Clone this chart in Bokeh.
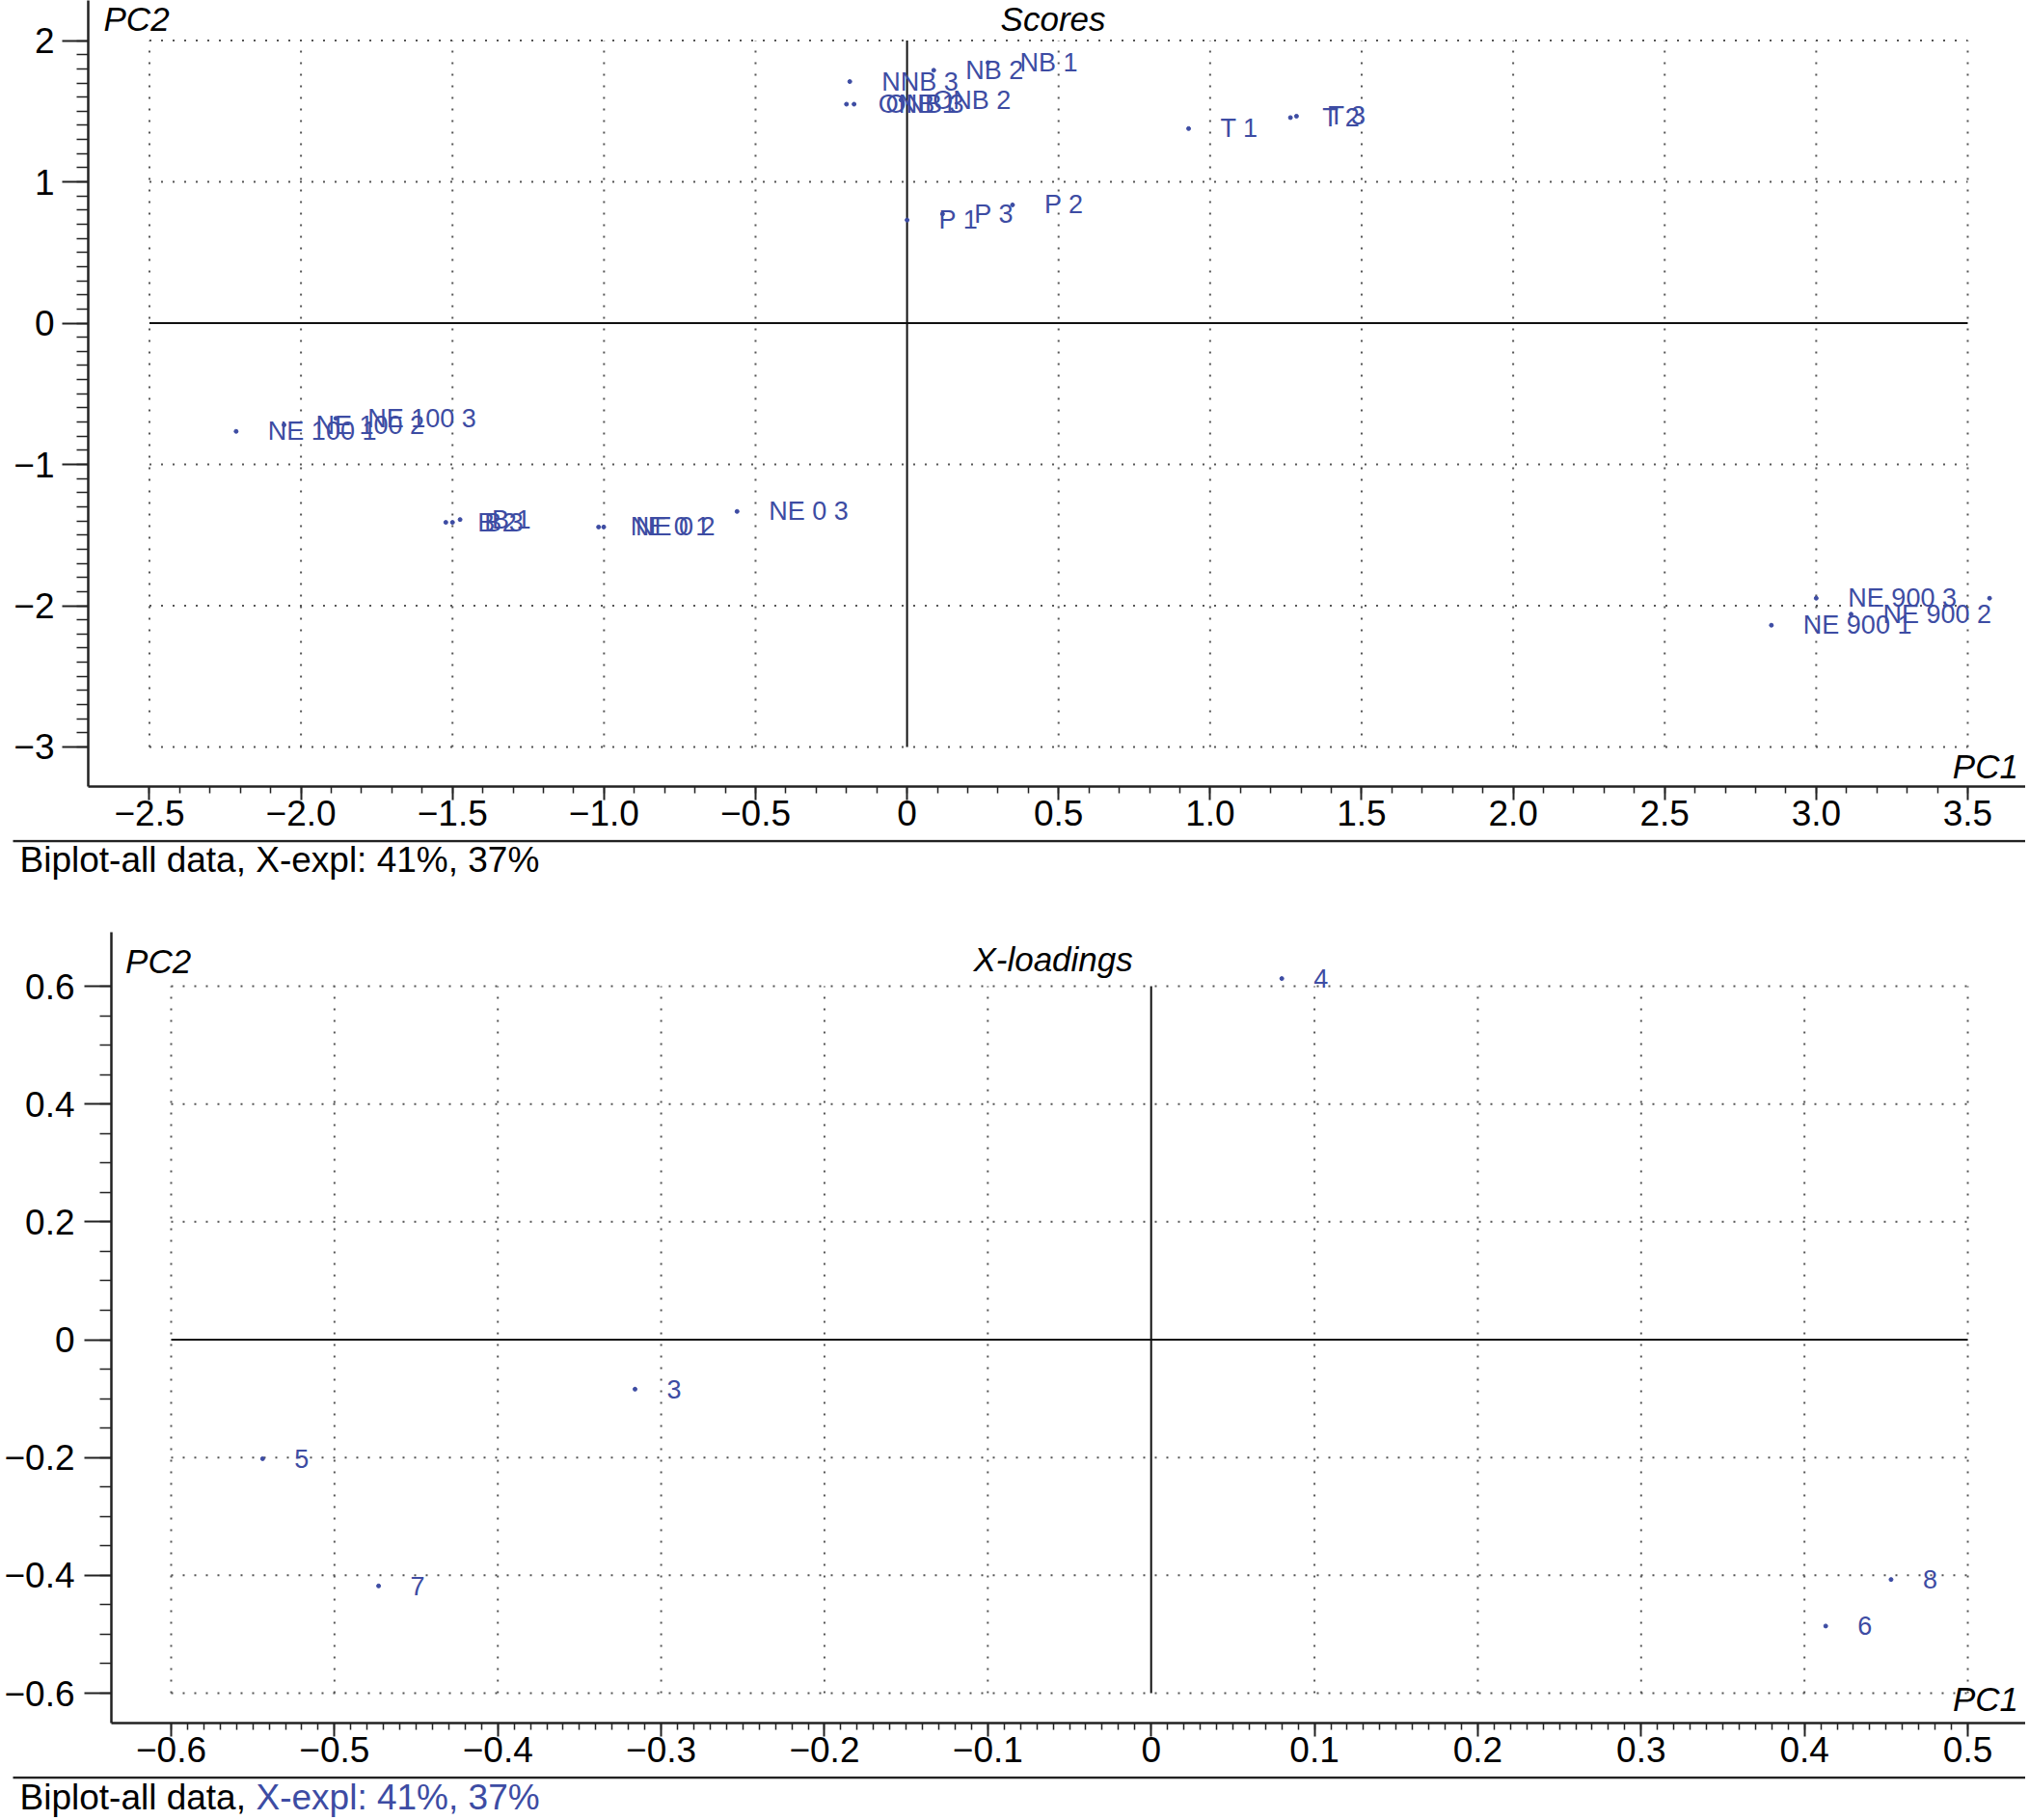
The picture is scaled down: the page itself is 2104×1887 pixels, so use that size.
import numpy as np
from bokeh.plotting import figure
from bokeh.layouts import column
from bokeh.models import FixedTicker, LinearAxis, Label, Range1d
from bokeh.core.properties import value
from bokeh.embed import file_html
from bokeh.resources import INLINE

BLUE = "#3d4ca3"
FONT = "Liberation Sans"
W = 2100

# ---------------- data: scores (PC1, PC2) ----------------
score_labels = ["NE 100 1", "NE 100 2", "NE 100 3",
                "B 2", "B 3", "B 1",
                "NE 0 1", "NE 0 2", "NE 0 3",
                "NNB 3", "ONB 1", "ONB 3", "ONB 2", "NB 2", "NB 1",
                "T 1", "T 2", "T 3",
                "P 1", "P 3", "P 2",
                "NE 900 1", "NE 900 2", "NE 900 3", ""]
score_pc1 = [-2.214, -2.056, -1.885,
             -1.522, -1.500, -1.475,
             -1.018, -1.001, -0.561,
             -0.189, -0.200, -0.175, -0.020, 0.088, 0.267,
             0.929, 1.265, 1.285,
             0.000, 0.117, 0.348,
             2.852, 3.115, 3.000, 3.572]
score_pc2 = [-0.766, -0.720, -0.674,
             -1.410, -1.410, -1.390,
             -1.443, -1.443, -1.333,
             1.710, 1.550, 1.550, 1.580, 1.790, 1.844,
             1.377, 1.455, 1.465,
             0.730, 0.773, 0.837,
             -2.138, -2.060, -1.947, -1.947]

# ---------------- data: X-loadings ----------------
load_labels = ["4", "3", "5", "7", "8", "6"]
load_pc1 = [0.080, -0.316, -0.544, -0.473, 0.453, 0.413]
load_pc2 = [0.613, -0.084, -0.202, -0.418, -0.407, -0.486]

# ---------------- ticks ----------------
top_xticks = [-2.5, -2.0, -1.5, -1.0, -0.5, 0, 0.5, 1.0, 1.5, 2.0, 2.5, 3.0, 3.5]
top_xlabels = ["\u22122.5", "\u22122.0", "\u22121.5", "\u22121.0", "\u22120.5", "0",
               "0.5", "1.0", "1.5", "2.0", "2.5", "3.0", "3.5"]
top_yticks = [-3, -2, -1, 0, 1, 2]
top_ylabels = ["\u22123", "\u22122", "\u22121", "0", "1", "2"]

bot_xticks = [-0.6, -0.5, -0.4, -0.3, -0.2, -0.1, 0, 0.1, 0.2, 0.3, 0.4, 0.5]
bot_xlabels = ["\u22120.6", "\u22120.5", "\u22120.4", "\u22120.3", "\u22120.2", "\u22120.1", "0",
               "0.1", "0.2", "0.3", "0.4", "0.5"]
bot_yticks = [-0.6, -0.4, -0.2, 0, 0.2, 0.4, 0.6]
bot_ylabels = ["\u22120.6", "\u22120.4", "\u22120.2", "0", "0.2", "0.4", "0.6"]

caption_black = "Biplot-all data, "
caption_blue = "X-expl: 41%, 37%"


def minor(lo, hi, step):
    return [float(v) for v in np.round(np.arange(lo, hi + step / 2, step), 3)]


def axis_style(ax, tick_out, minor_out, standoff):
    ax.axis_line_color = "#222222"
    ax.axis_line_width = 2.5
    ax.major_tick_line_color = "#222222"
    ax.major_tick_line_width = 2
    ax.minor_tick_line_color = "#222222"
    ax.minor_tick_line_width = 1.5
    ax.major_tick_in = 0
    ax.minor_tick_in = 0
    ax.major_tick_out = tick_out
    ax.minor_tick_out = minor_out
    ax.major_label_standoff = standoff
    ax.major_label_text_font = FONT
    ax.major_label_text_font_size = "37px"
    ax.major_label_text_color = "black"


def panel(height, xr, yr, border_left, border_bottom,
          xticks, xlabels, xminor, yticks, ylabels, yminor,
          ytick_out, ystandoff):
    p = figure(width=W, height=height, x_range=Range1d(*xr), y_range=Range1d(*yr),
               output_backend="svg", toolbar_location=None,
               x_axis_location=None, y_axis_location=None,
               min_border_left=border_left, min_border_right=0,
               min_border_top=0, min_border_bottom=border_bottom)
    p.frame_align = False
    p.outline_line_color = None
    p.grid.visible = False

    xa = LinearAxis(ticker=FixedTicker(ticks=xticks, minor_ticks=xminor),
                    major_label_overrides=dict(zip(xticks, xlabels)))
    axis_style(xa, 14, 7, 0)
    p.add_layout(xa, "below")

    ya = LinearAxis(ticker=FixedTicker(ticks=yticks, minor_ticks=yminor),
                    major_label_overrides=dict(zip(yticks, ylabels)))
    axis_style(ya, ytick_out, 12, ystandoff)
    p.add_layout(ya, "left")

    # dotted grid limited to the tick span
    gx = [t for t in xticks if t != 0]
    gy = [t for t in yticks if t != 0]
    p.segment(x0=gx, y0=yticks[0], x1=gx, y1=yticks[-1],
              line_color="#555555", line_dash="2 10", line_width=2)
    p.segment(x0=xticks[0], y0=gy, x1=xticks[-1], y1=gy,
              line_color="#555555", line_dash="2 10", line_width=2)
    # zero lines
    p.segment(x0=[xticks[0], 0], y0=[0, yticks[0]], x1=[xticks[-1], 0], y1=[0, yticks[-1]],
              line_color="#111111", line_width=2)
    return p


def caption(height, text_y, parts):
    # a strip holding the rule under the tick labels and the caption text
    c = figure(width=W, height=height, x_range=Range1d(0, W), y_range=Range1d(height, 0),
               output_backend="svg", toolbar_location=None,
               x_axis_location=None, y_axis_location=None,
               min_border_left=0, min_border_right=0, min_border_top=0, min_border_bottom=0)
    c.frame_align = False
    c.outline_line_color = None
    c.grid.visible = False
    c.segment(x0=13, y0=1.5, x1=W, y1=1.5, line_color="#222222", line_width=2.5)
    for x, txt, col in parts:
        c.text(x=[x], y=[text_y], text=[txt], text_baseline="middle",
               text_font=value(FONT), text_font_size="37px", text_color=col)
    return c


# ---------------- top panel: scores ----------------
p1 = panel(870, (-2.702, 3.691), (-3.28, 2.284), 91, 55,
           top_xticks, top_xlabels, minor(-2.5, 3.5, 0.1),
           top_yticks, top_ylabels, minor(-3, 2, 0.1), 27, 8)
p1.scatter(score_pc1, score_pc2, size=4, color=BLUE)
p1.text(score_pc1, score_pc2, text=score_labels, x_offset=33, text_baseline="middle",
        text_font=value(FONT), text_font_size="27px", text_color=BLUE)
for x, y, t, al in [(-2.651, 2.155, "PC2", "left"), (0.482, 2.155, "Scores", "center"),
                    (3.667, -3.139, "PC1", "right")]:
    p1.add_layout(Label(x=x, y=y, text=t, text_align=al, text_baseline="alphabetic",
                        text_font=FONT, text_font_size="35px", text_font_style="italic",
                        text_color="black"))
c1 = caption(96, 21, [(20, caption_black + caption_blue, "black")])

# ---------------- bottom panel: X-loadings ----------------
p2 = panel(875, (-0.6366, 0.5354), (-0.6507, 0.6917), 115, 55,
           bot_xticks, bot_xlabels, minor(-0.6, 0.5, 0.01),
           bot_yticks, bot_ylabels, minor(-0.6, 0.6, 0.05), 28, 10)
p2.scatter(load_pc1, load_pc2, size=4, color=BLUE)
p2.text(load_pc1, load_pc2, text=load_labels, x_offset=33, text_baseline="middle",
        text_font=value(FONT), text_font_size="27px", text_color=BLUE)
for x, y, t, al in [(-0.628, 0.643, "PC2", "left"), (-0.060, 0.646, "X-loadings", "center"),
                    (0.531, -0.610, "PC1", "right")]:
    p2.add_layout(Label(x=x, y=y, text=t, text_align=al, text_baseline="alphabetic",
                        text_font=FONT, text_font_size="35px", text_font_style="italic",
                        text_color="black"))
c2 = caption(44, 22, [(20, caption_black, "black"), (265, caption_blue, BLUE)])

layout = column(p1, c1, p2, c2)
open("out.html", "w").write(file_html(layout, INLINE))
